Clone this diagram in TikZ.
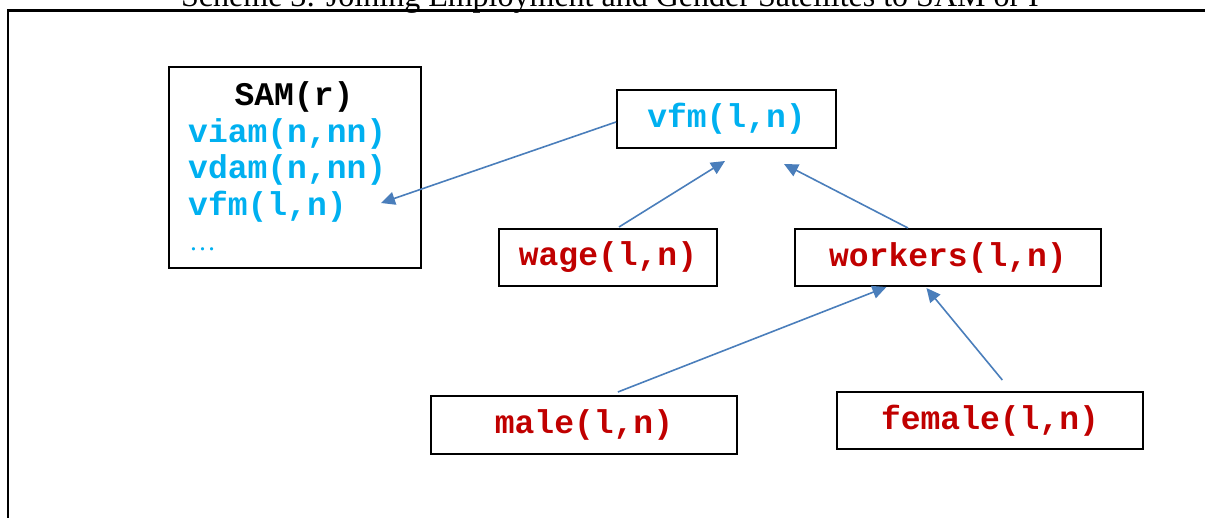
\documentclass[tikz,border=0pt]{standalone}
\usepackage{fontspec}
\setmainfont{Liberation Serif}
\setmonofont{Liberation Mono}
\usetikzlibrary{arrows.meta,calc}
\definecolor{cy}{HTML}{00B0F0}
\definecolor{rd}{HTML}{C00000}
\definecolor{ar}{HTML}{4A7EBB}
\begin{document}
\begin{tikzpicture}[x=1pt,y=-1pt,
  box/.style={draw=black, line width=2pt, inner sep=0pt, font=\fontsize{33}{36}\selectfont\ttfamily\bfseries},
  code/.style={inner sep=0pt, anchor=base west, text=cy, font=\fontsize{33}{36}\selectfont\ttfamily\bfseries},
  conn/.style={draw=ar, line width=1.6pt, -{Triangle[length=14pt,width=13pt]}}]
\useasboundingbox (0,0) rectangle (1205,517);
\draw[line width=2.2pt] (8,540) -- (8,10.5) -- (1230,10.5);
\node[anchor=base, inner sep=0pt, font=\fontsize{32}{36}\selectfont] (title) at (610,6.5) {Scheme 3: Joining Employment and Gender Satellites to SAM or I};
% SAM box
\node[box, minimum width=252pt, minimum height=201pt] (sam) at (295,167.5) {};
\node[code, anchor=base, text=black] (samt) at (294,105) {SAM(r)};
\node[code] (viam) at (188,142) {viam(n,nn)};
\node[code] (vdam) at (188,178) {vdam(n,nn)};
\node[code] (vfms) at (188,215) {vfm(l,n)};
\node[code, font=\fontsize{27}{30}\selectfont] (dots) at (189,250) {\dots};
% other boxes
\node[box, minimum width=219pt, minimum height=58pt, text=cy] (vfm) at (726.5,119) {vfm(l,n)};
\node[box, minimum width=218pt, minimum height=57pt, text=rd] (wage) at (608,257.5) {wage(l,n)};
\node[box, minimum width=306pt, minimum height=57pt, text=rd] (workers) at (948,257.5) {workers(l,n)};
\node[box, minimum width=306pt, minimum height=58pt, text=rd] (male) at (584,425) {male(l,n)};
\node[box, minimum width=306pt, minimum height=57pt, text=rd] (female) at (990,420.5) {female(l,n)};
% arrow ends
\coordinate (samtip) at ($(sam.east)+(-41,35.5)$);
\draw[conn] ($(vfm.west)+(0,3)$) -- (samtip);
\draw[conn] ($(wage.north west)!0.55!(wage.north east)+(0,-1)$) -- ($(vfm.south)+(-1.5,12)$);
\draw[conn] ($(workers.north west)!0.37!(workers.north east)$) -- ($(vfm.south)+(57.5,15)$);
\draw[conn] ($(male.north west)!0.61!(male.north east)+(0,-3)$) -- ($(workers.south west)!0.30!(workers.south east)$);
\draw[conn] ($(female.north west)!0.54!(female.north east)+(0,-11)$) -- ($(workers.south west)!0.43!(workers.south east)+(0,1)$);
\end{tikzpicture}
\end{document}
